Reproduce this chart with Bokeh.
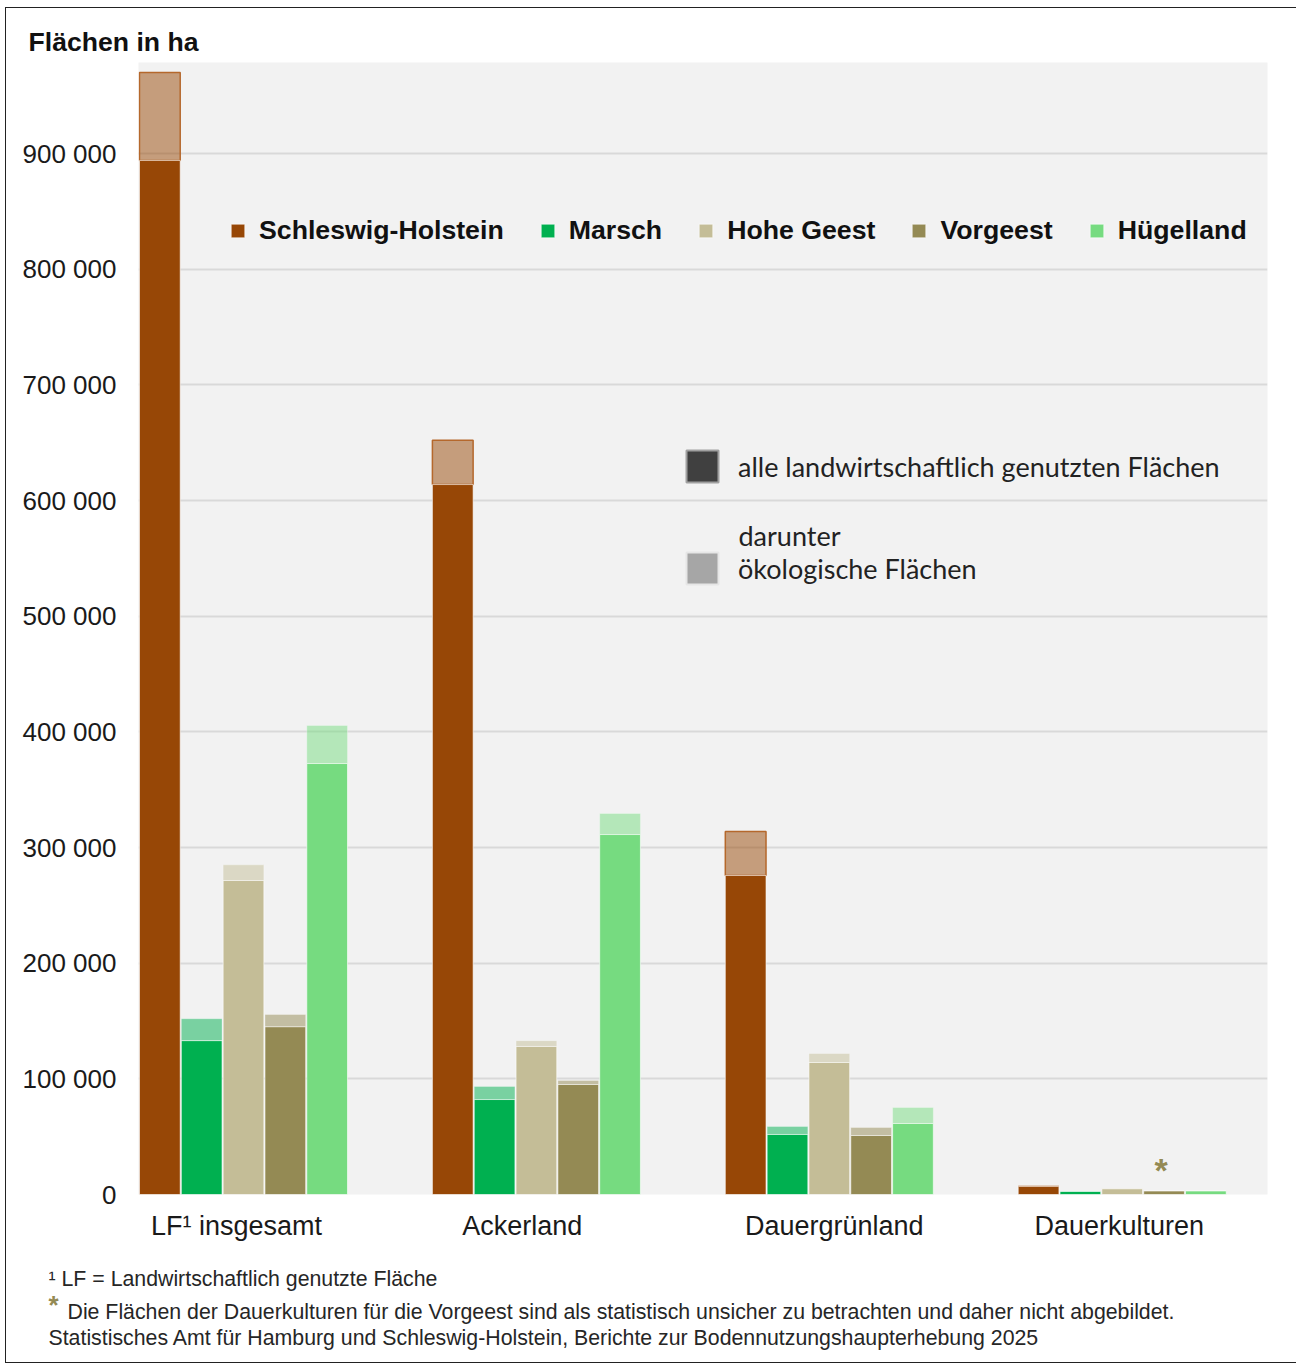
from bokeh.plotting import figure
from bokeh.layouts import column, row
from bokeh.models import (ColumnDataSource, Range1d, FixedTicker, Legend, LegendItem, Label)
from bokeh.embed import file_html
from bokeh.resources import INLINE

# ---------------- data ----------------
categories = ["LF\u00b9 insgesamt", "Ackerland", "Dauergr\u00fcnland", "Dauerkulturen"]
regions = ["Schleswig-Holstein", "Marsch", "Hohe Geest", "Vorgeest", "H\u00fcgelland"]
colors = ["#974706", "#00B050", "#C4BD97", "#948A54", "#76DB80"]

# alle landwirtschaftlich genutzten Flächen (ha), per category
alle_sh = [970000, 652000, 313800, 6900]
alle_marsch = [152000, 93400, 58800, 2600]
alle_hohe_geest = [285000, 133000, 121900, 4900]
alle_vorgeest = [155600, 98600, 57900, 3000]
alle_huegelland = [405500, 329400, 75200, 3000]

# darunter ökologische Flächen (ha)
oeko_sh = [76000, 38200, 38000, 0]
oeko_marsch = [19000, 11300, 6900, 0]
oeko_hohe_geest = [13500, 5000, 7800, 0]
oeko_vorgeest = [10600, 3500, 6900, 0]
oeko_huegelland = [32900, 18200, 13800, 0]

alle = [alle_sh, alle_marsch, alle_hohe_geest, alle_vorgeest, alle_huegelland]
oeko = [oeko_sh, oeko_marsch, oeko_hohe_geest, oeko_vorgeest, oeko_huegelland]

y_ticks = [0, 100000, 200000, 300000, 400000, 500000, 600000, 700000, 800000, 900000]
y_tick_labels = ["0", "100 000", "200 000", "300 000", "400 000", "500 000",
                 "600 000", "700 000", "800 000", "900 000"]

W = 1290
TXT = "#1a1a1a"

# ---------------- title strip ----------------
top = figure(width=W, height=54, x_range=Range1d(0, W), y_range=Range1d(0, 54),
             output_backend="svg", toolbar_location=None,
             x_axis_location=None, y_axis_location=None,
             min_border=0, outline_line_color=None, border_fill_color="white",
             background_fill_color="white")
top.grid.visible = False
top.add_layout(Label(x=22, y=21, text="Fl\u00e4chen in ha",
                     text_font="Liberation Sans", text_font_style="bold", text_font_size="26.6px",
                     text_color="#111111", text_baseline="middle"))

# ---------------- main chart ----------------
p = figure(frame_width=1129, frame_height=1132,
           min_border_left=132, min_border_right=29, min_border_top=0, min_border_bottom=56,
           x_range=Range1d(-0.3585, 3.496), y_range=Range1d(0, 978700),
           output_backend="svg", toolbar_location=None,
           background_fill_color="#F2F2F2", border_fill_color="white")
p.outline_line_color = None

p.xgrid.grid_line_color = None
p.ygrid.grid_line_color = "#D9D9D9"
p.ygrid.grid_line_width = 2
p.ygrid.ticker = FixedTicker(ticks=y_ticks)

p.yaxis.ticker = FixedTicker(ticks=y_ticks)
p.yaxis.major_label_overrides = {t: l for t, l in zip(y_ticks, y_tick_labels)}
p.yaxis.axis_line_color = None
p.yaxis.major_tick_line_color = None
p.yaxis.major_tick_out = 0
p.yaxis.major_tick_in = 0
p.yaxis.minor_tick_line_color = None
p.yaxis.major_label_standoff = 22
p.yaxis.major_label_text_font = "Liberation Sans"
p.yaxis.major_label_text_font_size = "26px"
p.yaxis.major_label_text_color = TXT

label_pos = [-0.024, 0.952, 2.017, 2.99]
p.xaxis.ticker = FixedTicker(ticks=label_pos)
p.xaxis.major_label_overrides = {t: c for t, c in zip(label_pos, categories)}
p.xaxis.axis_line_color = None
p.xaxis.major_tick_line_color = None
p.xaxis.major_tick_out = 0
p.xaxis.major_tick_in = 0
p.xaxis.minor_tick_line_color = None
p.xaxis.major_label_standoff = 16
p.xaxis.major_label_text_font = "Liberation Sans"
p.xaxis.major_label_text_font_size = "27px"
p.xaxis.major_label_text_color = TXT

step = 0.1428
bw = 0.139
items = []
for k, (name, col) in enumerate(zip(regions, colors)):
    xs = [i + (k - 2) * step for i in range(len(categories))]
    tot = alle[k]
    eco = oeko[k]
    base = [t - e for t, e in zip(tot, eco)]
    light_src = ColumnDataSource(dict(x=xs, top=tot, bottom=base))
    dark_src = ColumnDataSource(dict(x=xs, top=base))
    if k == 0:
        p.vbar(x="x", top="top", bottom="bottom", width=bw, source=light_src,
               fill_color=col, fill_alpha=0.5, line_color="#B5682C", line_width=1.5)
    else:
        p.vbar(x="x", top="top", bottom="bottom", width=bw, source=light_src,
               fill_color=col, fill_alpha=0.5, line_color="white", line_alpha=0.3, line_width=1)
    r = p.vbar(x="x", top="top", bottom=0, width=bw, source=dark_src,
               fill_color=col, line_color="white", line_alpha=0.6, line_width=1)
    items.append(LegendItem(label=name, renderers=[r]))

legend1 = Legend(items=items, orientation="horizontal", location=(91, 948),
                 padding=0, margin=0, spacing=35, label_standoff=13,
                 glyph_width=17, glyph_height=17,
                 label_text_font="Liberation Sans", label_text_font_style="bold",
                 label_text_font_size="26.7px", label_text_color="#111111",
                 background_fill_alpha=0, border_line_color=None)
p.add_layout(legend1, "center")

# second legend: alle / ökologische (proxy glyphs without visible data)
proxy = ColumnDataSource(dict(x=[float("nan")], top=[float("nan")]))
r_all = p.vbar(x="x", top="top", width=0.1, source=proxy,
               fill_color="#404040", line_color="#A0A0A0", line_width=2)
r_eco = p.vbar(x="x", top="top", width=0.1, source=proxy,
               fill_color="#A6A6A6", line_color="#E6E6E6", line_width=2)
legend2 = Legend(items=[LegendItem(label="alle landwirtschaftlich genutzten Fl\u00e4chen", renderers=[r_all]),
                        LegendItem(label="\u00f6kologische Fl\u00e4chen", renderers=[r_eco])],
                 orientation="vertical", location=(544, 606),
                 padding=0, margin=0, spacing=62, label_standoff=16,
                 glyph_width=40, glyph_height=40,
                 label_text_font="Lato", label_text_font_size="27px",
                 label_text_color="#222222",
                 background_fill_alpha=0, border_line_color=None)
p.add_layout(legend2, "center")

p.add_layout(Label(x=600, y=659, x_units="screen", y_units="screen", text="darunter",
                   text_font="Lato", text_font_size="27px", text_color="#222222",
                   text_baseline="middle"))

# asterisk over Vorgeest Dauerkulturen
p.add_layout(Label(x=3 + 1 * step - 0.01, y=alle_vorgeest[3], text="*", y_offset=2,
                   text_font="Liberation Sans", text_font_style="bold", text_font_size="34px",
                   text_color="#948A54", text_align="center", text_baseline="bottom"))

# ---------------- footnote strip ----------------
FH = 112
foot = figure(width=W, height=FH, x_range=Range1d(0, W), y_range=Range1d(0, FH),
              output_backend="svg", toolbar_location=None,
              x_axis_location=None, y_axis_location=None,
              min_border=0, outline_line_color=None, border_fill_color="white",
              background_fill_color="white")
foot.grid.visible = False
foot_font = "Liberation Sans"
FT = "#262626"
FS = "21.3px"
foot.add_layout(Label(x=42, y=84, text="\u00b9 LF = Landwirtschaftlich genutzte Fl\u00e4che",
                      text_font=foot_font, text_font_size=FS, text_color=FT,
                      text_baseline="middle"))
foot.add_layout(Label(x=42, y=58, text="*",
                      text_font=foot_font, text_font_style="bold", text_font_size="26px",
                      text_color="#948A54", text_baseline="middle"))
foot.add_layout(Label(x=61, y=51,
                      text="Die Fl\u00e4chen der Dauerkulturen f\u00fcr die Vorgeest sind als statistisch unsicher zu betrachten und daher nicht abgebildet.",
                      text_font=foot_font, text_font_size=FS, text_color=FT,
                      text_baseline="middle"))
foot.add_layout(Label(x=42, y=25,
                      text="Statistisches Amt f\u00fcr Hamburg und Schleswig-Holstein,  Berichte zur Bodennutzungshaupterhebung  2025",
                      text_font=foot_font, text_font_size=FS, text_color=FT,
                      text_baseline="middle"))

layout = column(top, row(p, spacing=0), foot, spacing=0, margin=(7, 0, 0, 5),
                styles={"border": "1px solid #222222"})

open("out.html", "w").write(file_html(layout, INLINE))
